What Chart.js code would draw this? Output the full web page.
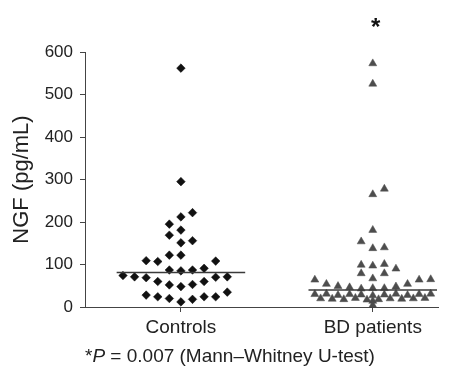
<!DOCTYPE html>
<html><head><meta charset="utf-8">
<script src="https://cdn.jsdelivr.net/npm/chart.js@4.4.1/dist/chart.umd.min.js"></script>
<style>html,body{margin:0;padding:0;background:#fff}#wrap{width:465px;height:367px;position:relative}</style>
</head><body><div id="wrap"><canvas id="c"></canvas></div>
<script>
// ---- data ----
const categories = ['Controls', 'BD patients'];
const yTickValues = [0, 100, 200, 300, 400, 500, 600];

// NGF (pg/mL), one entry per subject, with its swarm column (0 = centre)
const controlsValues  = [562, 295, 222, 212, 195, 181, 169, 156, 151, 122, 122, 109, 107, 108, 87, 85, 87, 91, 74, 71, 69, 70, 71, 60, 52, 48, 53, 60, 28, 24, 20, 12, 18, 24, 24, 35];
const controlsColumns = [0, 0, 1, 0, -1, 0, -1, 1, 0, -1, 0, -3, -2, 3, -1, 0, 1, 2, -5, -4, -3, 3, 4, -2, -1, 0, 1, 2, -3, -2, -1, 0, 1, 2, 3, 4];

const bdValues  = [573, 525, 265, 278, 181, 154, 138, 140, 99, 97, 101, 90, 79, 67, 79,
                   64, 54, 49, 46, 43, 44, 44, 48, 54, 64, 65,
                   30, 20, 31, 19, 28, 18, 30, 21, 29, 17, 27, 18, 29, 20, 31, 19, 28, 20, 30, 21, 31,
                   14, 4];
const bdColumns = [0, 0, 0, 1, 0, -1, 0, 1, -1, 0, 1, 2, -1, 0, 1,
                   -5, -4, -3, -2, -1, 0, 1, 2, 3, 4, 5,
                   -5, -4.5, -4, -3.5, -3, -2.5, -2, -1.5, -1, -0.5, 0, 0.5, 1, 1.5, 2, 2.5, 3, 3.5, 4, 4.5, 5,
                   0, 0];

const medians = [81, 40];
const significanceValue = 671;       // height of the "*" above BD patients
const footnoteStar = '*';
const footnoteP = 'P';
const footnoteRest = ' = 0.007 (Mann–Whitney U-test)';
const yTitle = 'NGF (pg/mL)';

// ---- build ----
const COL = 0.0604;      // swarm column width in x units
const HALF = 0.335;      // half length of median bars
const FONT = '"Liberation Sans", Arial, Helvetica, sans-serif';

const ctrlPts = controlsValues.map((v, i) => ({x: 1 + controlsColumns[i] * COL, y: v}));
const bdPts = bdValues.map((v, i) => ({x: 2 + bdColumns[i] * COL, y: v}));
const medianSets = medians.map((m, i) => ({
  type: 'line',
  data: [{x: i + 1 - HALF, y: m}, {x: i + 1 + HALF, y: m}],
  borderColor: '#3a3a3a', borderWidth: 1.5, pointRadius: 0, showLine: true, order: 0
}));

const annot = {
  id: 'annot',
  afterDraw(chart) {
    const ctx = chart.ctx, xs = chart.scales.x, ys = chart.scales.y;
    ctx.save();
    // significance star
    ctx.fillStyle = '#111';
    ctx.font = 'bold 24px ' + FONT;
    ctx.textAlign = 'center';
    ctx.textBaseline = 'alphabetic';
    ctx.fillText('*', xs.getPixelForValue(2) + 3, ys.getPixelForValue(significanceValue) + 13);
    // footnote
    ctx.fillStyle = '#222';
    ctx.textBaseline = 'middle';
    ctx.textAlign = 'left';
    let x = chart.chartArea.left;
    const y = 357;
    ctx.font = '19px ' + FONT;
    ctx.fillText(footnoteStar, x, y);
    x += ctx.measureText(footnoteStar).width;
    ctx.font = 'italic 19px ' + FONT;
    ctx.fillText(footnoteP, x, y);
    x += ctx.measureText(footnoteP).width;
    ctx.font = '19px ' + FONT;
    ctx.fillText(footnoteRest, x, y);
    ctx.restore();
  }
};

new Chart(document.getElementById('c'), {
  type: 'scatter',
  data: {
    datasets: [
      {label: categories[0], data: ctrlPts, pointStyle: 'rectRot', pointRadius: 4.3,
       backgroundColor: '#111', borderColor: '#111', borderWidth: 0.5, order: 1},
      {label: categories[1], data: bdPts, pointStyle: 'triangle', pointRadius: 4.6,
       backgroundColor: '#4d4d4d', borderColor: '#4d4d4d', borderWidth: 0.5, order: 2},
      ...medianSets
    ]
  },
  options: {
    responsive: true, maintainAspectRatio: false, animation: false,
    layout: {padding: {top: 52, right: 27, left: 0, bottom: 0}},
    plugins: {legend: {display: false}, tooltip: {enabled: false}},
    scales: {
      x: {
        type: 'linear', min: 0.5, max: 2.34,
        afterBuildTicks(s) { s.ticks = categories.map((c, i) => ({value: i + 1})); },
        afterFit(s) { s.height = 60; },
        ticks: {autoSkip: false, maxRotation: 0, padding: 4, color: '#222',
                font: {family: FONT, size: 19},
                callback: (v) => categories[Math.round(v) - 1] || ''},
        grid: {drawOnChartArea: false, drawTicks: true, tickLength: 5, color: '#444'},
        border: {display: true, color: '#444', width: 1}
      },
      y: {
        min: 0, max: 600,
        afterBuildTicks(s) { s.ticks = yTickValues.map(v => ({value: v})); },
        afterFit(s) { s.width = 85; },
        ticks: {padding: 7, color: '#222', font: {family: FONT, size: 17}},
        grid: {drawOnChartArea: false, drawTicks: true, tickLength: 5, color: '#444'},
        border: {display: true, color: '#444', width: 1},
        title: {display: true, text: yTitle, color: '#222', padding: {top: 9, bottom: 0},
                font: {family: FONT, size: 22}}
      }
    }
  },
  plugins: [annot]
});
</script></body></html>
